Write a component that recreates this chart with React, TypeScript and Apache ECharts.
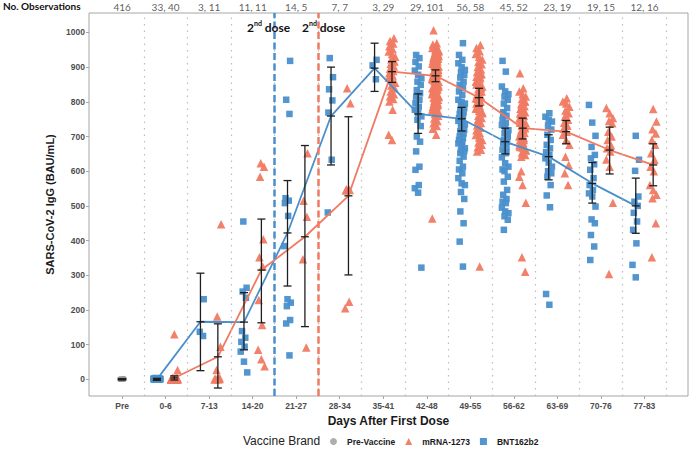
import React, { useEffect, useRef } from "react";
import * as echarts from "echarts";

// ---------- data ----------
const categories = ["Pre", "0-6", "7-13", "14-20", "21-27", "28-34", "35-41", "42-48", "49-55", "56-62", "63-69", "70-76", "77-83"];
const obsCounts = ["416", "33, 40", "3, 11", "11, 11", "14, 5", "7, 7", "3, 29", "29, 101", "56, 58", "45, 52", "23, 19", "19, 15", "12, 16"];
const yTickValues = [0, 100, 200, 300, 400, 500, 600, 700, 800, 900, 1000];

const preVaccineValues = [0, 1, 0, 2, 0, 0, 1, 3, 0, 0, 1, 0, 2, 0, 0, 1, 0, 0, 2, 1];
const preSummary = { low: -2, mean: 0, high: 2 };

const bntValues: number[][] = [
  [],
  [0, 1, 0, 2, 0, 3, 0, 1, 0, 0, 2, 0, 1, 0, 0, 4, 0, 1, 0, 2, 0, 0, 1, 0, 3, 0, 0, 1, 0, 2, 0, 0, 1],
  [231, 137, 125],
  [455, 264, 253, 235, 139, 120, 108, 94, 80, 51, 20],
  [918, 806, 765, 522, 515, 508, 471, 384, 231, 221, 211, 171, 161, 69],
  [926, 871, 836, 804, 769, 633, 481],
  [921, 905, 865],
  [935, 926, 915, 902, 890, 878, 868, 858, 849, 834, 825, 815, 806, 796, 786, 777, 767, 758, 748, 730, 700, 685, 657, 613, 604, 560, 551, 538, 322],
  [969, 935, 921, 911, 900, 892, 885, 878, 870, 858, 849, 840, 830, 820, 806, 800, 795, 790, 782, 775, 770, 765, 760, 753, 750, 745, 738, 735, 730, 720, 715, 709, 700, 695, 690, 685, 680, 675, 666, 660, 658, 652, 642, 630, 613, 605, 594, 580, 565, 560, 540, 520, 484, 450, 397, 325],
  [918, 887, 844, 830, 822, 815, 806, 795, 782, 770, 760, 748, 740, 733, 725, 718, 709, 700, 690, 685, 680, 671, 662, 652, 640, 623, 613, 600, 584, 570, 546, 532, 520, 512, 508, 495, 484, 479, 470, 460, 431, 705, 765, 655, 605],
  [767, 757, 748, 743, 731, 720, 705, 690, 676, 666, 655, 647, 637, 625, 613, 600, 594, 584, 560, 530, 496, 246, 215],
  [791, 740, 702, 670, 647, 637, 620, 604, 580, 560, 546, 536, 527, 498, 461, 450, 416, 383, 344],
  [702, 633, 601, 527, 512, 500, 480, 455, 431, 392, 330, 294],
];

const mrnaValues: number[][] = [
  [],
  [130, 27, 0, 1, 0, 2, 0, 0, 1, 3, 0, 0, 2, 0, 1, 0, 0, 4, 0, 1, 0, 0, 2, 0, 1, 0, 3, 0, 0, 1, 0, 2, 0, 0, 1, 0, 5, 0, 1, 0],
  [447, 181, 94, 27, 3, 1, 0, 0, 2, 0, 1],
  [623, 613, 584, 404, 352, 325, 229, 157, 85, 58, 38],
  [652, 515, 469, 346, 92],
  [839, 796, 548, 546, 544, 224, 205],
  [983, 975, 968, 960, 952, 945, 938, 930, 923, 916, 910, 902, 895, 889, 883, 876, 870, 863, 855, 847, 839, 830, 822, 815, 808, 801, 777, 705, 690],
  [1006, 969, 965, 960, 955, 950, 946, 942, 938, 934, 930, 926, 922, 918, 914, 910, 906, 902, 898, 894, 890, 886, 882, 878, 874, 870, 866, 862, 858, 854, 850, 846, 842, 838, 834, 830, 826, 822, 818, 814, 810, 806, 802, 798, 794, 790, 786, 782, 778, 774, 770, 765, 760, 752, 745, 738, 730, 722, 705, 464,
    958, 948, 936, 924, 912, 900, 888, 876, 864, 852, 840, 828, 816, 804, 792, 780, 944, 920, 896, 872, 848, 824, 800, 932, 908, 884, 860, 836, 812, 788, 776, 884, 868, 856, 844, 880, 892, 904, 916, 928, 940],
  [964, 955, 946, 938, 930, 922, 915, 908, 900, 893, 886, 879, 872, 865, 858, 851, 844, 837, 830, 823, 816, 809, 802, 795, 788, 781, 774, 767, 760, 753, 746, 739, 732, 725, 718, 711, 704, 697, 690, 683, 676, 669, 662, 657, 870, 850, 830, 810, 790, 770, 750, 880, 860, 840, 820, 800, 780, 325],
  [882, 839, 830, 822, 815, 808, 801, 794, 787, 780, 773, 766, 759, 752, 745, 738, 731, 724, 717, 710, 703, 696, 689, 682, 675, 668, 661, 654, 647, 642, 800, 780, 760, 740, 720, 700, 680, 660, 790, 770, 750, 730, 710, 690, 670, 650, 584, 560, 509, 352, 310, 600],
  [810, 801, 795, 786, 775, 767, 757, 748, 740, 731, 722, 714, 705, 690, 676, 642, 618, 594, 560],
  [782, 767, 753, 745, 738, 714, 700, 690, 675, 666, 657, 634, 613, 509, 304],
  [779, 743, 721, 709, 690, 676, 652, 633, 613, 600, 560, 546, 532, 522, 450, 352],
];

const bntMean = [null, 0, 166, 165, 422, 759, 897, 765, 751, 685, 642, 565, 500];
const bntLow = [null, -3, 25, 85, 269, 618, 830, 709, 716, 650, 575, 508, 421];
const bntHigh = [null, 3, 306, 250, 573, 900, 969, 823, 784, 724, 705, 625, 580];
const mrnaMean = [null, 4, 65, 315, 411, 529, 887, 875, 812, 724, 714, 661, 618];
const mrnaLow = [null, -2, -25, 163, 152, 301, 856, 858, 788, 693, 679, 592, 558];
const mrnaHigh = [null, 10, 160, 462, 674, 757, 916, 892, 839, 753, 746, 727, 679];

// ---------- styling ----------
const RED = "#F07A62";
const BLUE = "#4A8FCB";
const GREY = "#9a9a9a";
const FONT = "Liberation Sans";
const DODGE = 0.2;

function jitter(k: number, w: number) {
  return (((k * 5) % 11) / 10 - 0.5) * 2 * w;
}

function scatterPoints(groups: number[][], dodge: number) {
  const out: number[][] = [];
  groups.forEach((vals, i) => {
    vals.forEach((v, k) => out.push([i + dodge + jitter(k + i, 0.075), v]));
  });
  return out;
}

function linePoints(means: (number | null)[], dodge: number) {
  const out: number[][] = [];
  means.forEach((m, i) => {
    if (m !== null) out.push([i + dodge, m]);
  });
  return out;
}

function errPoints(lows: (number | null)[], means: (number | null)[], highs: (number | null)[], dodge: number) {
  const out: number[][] = [];
  means.forEach((m, i) => {
    if (m !== null) out.push([i + dodge, lows[i] as number, m, highs[i] as number]);
  });
  return out;
}

const errorBarRender = (params: any, api: any) => {
  const x = api.value(0);
  const pLo = api.coord([x, api.value(1)]);
  const pMid = api.coord([x, api.value(2)]);
  const pHi = api.coord([x, api.value(3)]);
  const hw = 4;
  const style = { stroke: "#1f1f1f", lineWidth: 1.3 };
  return {
    type: "group",
    children: [
      { type: "line", shape: { x1: pLo[0], y1: pLo[1], x2: pHi[0], y2: pHi[1] }, style },
      { type: "line", shape: { x1: pLo[0] - hw, y1: pLo[1], x2: pLo[0] + hw, y2: pLo[1] }, style },
      { type: "line", shape: { x1: pHi[0] - hw, y1: pHi[1], x2: pHi[0] + hw, y2: pHi[1] }, style },
      { type: "line", shape: { x1: pMid[0] - hw, y1: pMid[1], x2: pMid[0] + hw, y2: pMid[1] }, style },
    ],
  };
};

const categoryIdx = categories.map((_, i) => i);
const separators = categories.map((_, i) => i + 0.5);
const bntSecondDose = categories.indexOf("21-27") - 0.5;
const mrnaSecondDose = categories.indexOf("28-34") - 0.5;

const X_MIN = -0.76;
const X_MAX = 13.0;
const Y_MIN = -48;
const Y_MAX = 1056;

const doseRich = {
  n: { fontSize: 12, fontWeight: "bold", fontFamily: "Lato", fill: "#111", lineHeight: 14, verticalAlign: "bottom" },
  s: { fontSize: 7, fontWeight: "bold", fontFamily: "Lato", fill: "#111", lineHeight: 14, verticalAlign: "top" },
};

const markLineBase = { silent: true, symbol: ["none", "none"], label: { show: false }, emphasis: { disabled: true } };

const option: any = {
  animation: false,
  backgroundColor: "#ffffff",
  textStyle: { fontFamily: FONT },
  grid: { left: 89, right: 8, top: 13, bottom: 53, show: true, borderColor: "#a6a6a6", borderWidth: 1, backgroundColor: "#fff" },
  xAxis: {
    type: "value",
    min: X_MIN,
    max: X_MAX,
    splitLine: { show: false },
    axisLine: { show: false, onZero: false },
    axisTick: { show: true, customValues: categoryIdx, length: 3, lineStyle: { color: "#a6a6a6" } },
    axisLabel: {
      customValues: categoryIdx,
      formatter: (v: number) => categories[Math.round(v)] ?? "",
      fontSize: 8.5,
      fontWeight: "bold",
      color: "#4d4d4d",
      margin: 5,
    },
    name: "Days After First Dose",
    nameLocation: "middle",
    nameGap: 10,
    nameTextStyle: { fontSize: 12, fontWeight: "bold", color: "#1a1a1a" },
  },
  yAxis: {
    type: "value",
    min: Y_MIN,
    max: Y_MAX,
    splitLine: { show: false },
    axisLine: { show: false, onZero: false },
    axisTick: { show: true, customValues: yTickValues, length: 3, lineStyle: { color: "#a6a6a6" } },
    axisLabel: {
      customValues: yTickValues,
      formatter: (v: number) => String(v),
      fontSize: 8.5,
      fontWeight: "bold",
      color: "#4d4d4d",
      margin: 4,
    },
    name: "SARS-CoV-2 IgG (BAU/mL)",
    nameLocation: "middle",
    nameGap: 26,
    nameTextStyle: { fontSize: 11, fontWeight: "bold", color: "#1a1a1a" },
  },
  legend: {
    data: ["Pre-Vaccine", "mRNA-1273", "BNT162b2"],
    left: 330,
    top: 437,
    padding: 0,
    itemWidth: 7,
    itemHeight: 7,
    itemGap: 10,
    textStyle: { fontSize: 8.5, fontWeight: "bold", color: "#1a1a1a", padding: [0, 0, 0, 5] },
  },
  graphic: [
    { type: "text", left: 3, top: 1, style: { text: "No. Observations", fontSize: 10, fontWeight: "bold", fontFamily: "Lato", fill: "#111" } },
    { type: "text", left: 243, top: 435, style: { text: "Vaccine Brand", fontSize: 12, fontFamily: FONT, fill: "#222" } },
    { type: "text", left: 247, top: 19, z: 50, style: { text: "{n|2}{s|nd}{n| dose}", rich: doseRich } },
    { type: "text", left: 302, top: 19, z: 50, style: { text: "{n|2}{s|nd}{n| dose}", rich: doseRich } },
  ],
  series: [
    {
      name: "separators",
      type: "line",
      data: [],
      z: 1,
      markLine: {
        ...markLineBase,
        lineStyle: { type: [1.5, 5], color: "#bdbdbd", width: 1.2 },
        data: separators.map((s) => ({ xAxis: s })),
      },
    },
    {
      name: "counts",
      type: "scatter",
      symbolSize: 0,
      silent: true,
      clip: false,
      z: 6,
      itemStyle: { color: "transparent" },
      label: {
        show: true,
        position: "top",
        distance: 1,
        fontSize: 10,
        fontFamily: "Lato",
        color: "#333",
        formatter: (p: any) => obsCounts[p.dataIndex],
      },
      data: categoryIdx.map((i) => [i, Y_MAX]),
    },
    {
      name: "Pre-Vaccine",
      type: "scatter",
      symbol: "circle",
      symbolSize: 5,
      z: 2,
      itemStyle: { color: GREY },
      data: preVaccineValues.map((v, k) => [jitter(k + 3, 0.06), v]),
    },
    {
      name: "mRNA-1273",
      type: "scatter",
      symbol: "triangle",
      symbolSize: 8.5,
      z: 2,
      itemStyle: { color: RED, opacity: 0.95 },
      data: scatterPoints(mrnaValues, DODGE),
    },
    {
      name: "BNT162b2",
      type: "scatter",
      symbol: "rect",
      symbolSize: 6.5,
      z: 2,
      itemStyle: { color: BLUE, opacity: 0.95 },
      data: scatterPoints(bntValues, -DODGE),
    },
    {
      name: "dose lines",
      type: "line",
      data: [],
      z: 5,
      markLine: {
        ...markLineBase,
        data: [
          { xAxis: bntSecondDose, lineStyle: { color: BLUE, type: [7, 3.5], width: 2.5 } },
          { xAxis: mrnaSecondDose, lineStyle: { color: RED, type: [7, 3.5], width: 2.5 } },
        ],
      },
    },
    {
      name: "BNT162b2 mean",
      type: "line",
      symbol: "none",
      z: 3,
      lineStyle: { color: BLUE, width: 1.8 },
      data: linePoints(bntMean, -DODGE),
    },
    {
      name: "mRNA-1273 mean",
      type: "line",
      symbol: "none",
      z: 3,
      lineStyle: { color: RED, width: 1.8 },
      data: linePoints(mrnaMean, DODGE),
    },
    {
      name: "errors",
      type: "custom",
      z: 4,
      renderItem: errorBarRender,
      encode: { x: 0, y: [1, 2, 3] },
      data: [
        [0, preSummary.low, preSummary.mean, preSummary.high],
        ...errPoints(bntLow, bntMean, bntHigh, -DODGE),
        ...errPoints(mrnaLow, mrnaMean, mrnaHigh, DODGE),
      ],
    },
  ],
};

export default function App() {
  const ref = useRef<HTMLDivElement>(null);
  useEffect(() => {
    if (!ref.current) return;
    const chart = echarts.init(ref.current, null, { renderer: "svg" });
    chart.setOption(option);
    return () => chart.dispose();
  }, []);
  return <div ref={ref} style={{ position: "absolute", left: 0, top: 0, width: 696, height: 449 }} />;
}
